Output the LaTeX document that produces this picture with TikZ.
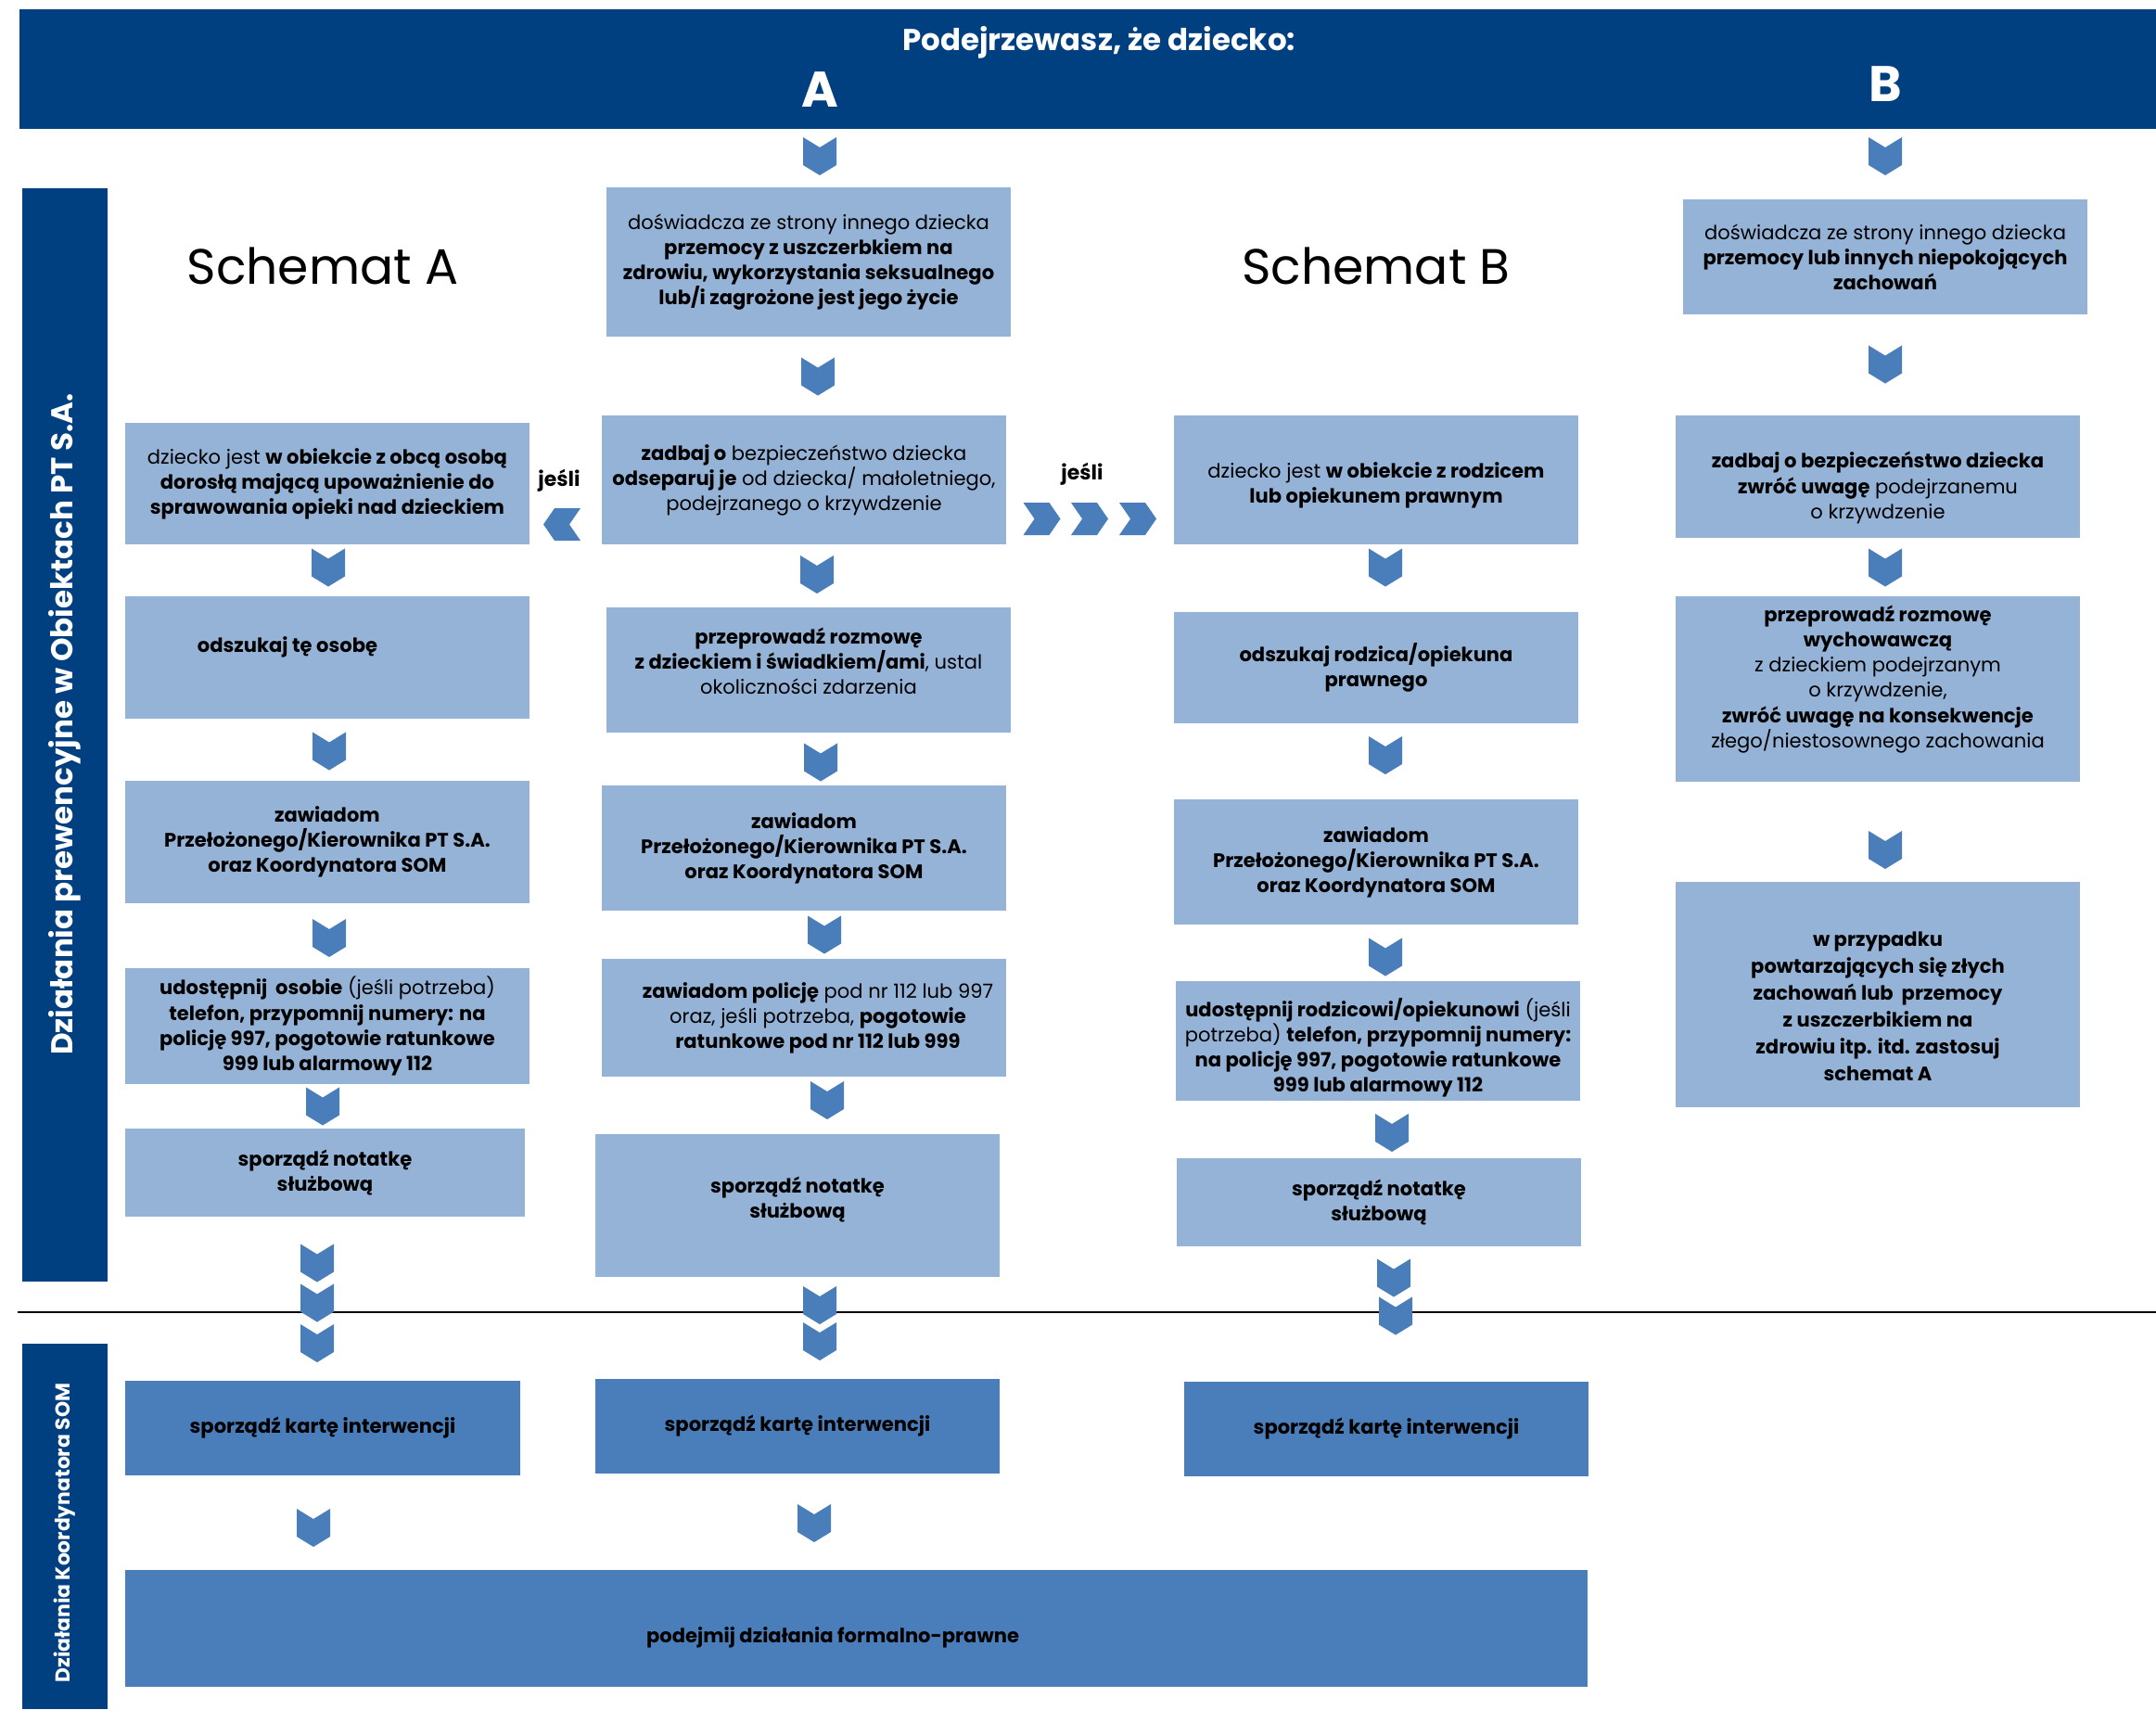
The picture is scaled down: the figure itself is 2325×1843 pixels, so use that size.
\documentclass[tikz,border=0pt]{standalone}
\usepackage{fontspec}
\setmainfont{Poppins}
\usetikzlibrary{shapes.symbols}

\definecolor{navy}{HTML}{003F80}
\definecolor{boxlight}{HTML}{95B3D7}
\definecolor{boxdark}{HTML}{4A7EBB}
\definecolor{chevblue}{HTML}{4A7EBB}

% one unit of the picture = one pixel of the original
\def\pxu{0.02cm}
\newcommand{\boxfont}{\fontsize{12pt}{15.4pt}\selectfont}

\tikzset{
  lbox/.style={fill=boxlight, align=center, inner sep=0pt, font=\boxfont},
  dbox/.style={fill=boxdark, align=center, inner sep=0pt, font=\boxfont\bfseries},
  boxtxt/.style={align=center, inner sep=0pt, font=\boxfont},
  wh/.style 2 args={minimum width=#1*\pxu, minimum height=#2*\pxu},
  sidebar/.style={fill=navy, text=white, rotate=90, inner sep=0pt, font=\bfseries},
  chev/.style={signal, fill=chevblue, inner sep=0pt},
  chevd/.style={chev, signal to=south, signal from=north, signal pointer angle=117,
                minimum width=36*\pxu, minimum height=19*\pxu},
  chevl/.style={chev, signal to=west, signal from=east, signal pointer angle=111,
                minimum width=40*\pxu, minimum height=35*\pxu},
  chevr/.style={chev, signal to=east, signal from=west, signal pointer angle=111,
                minimum width=40*\pxu, minimum height=35*\pxu},
}

\begin{document}
\begin{tikzpicture}[x=0.02cm, y=-0.02cm]
\useasboundingbox (0,0) rectangle (2325,1843);

% ---- header
\node[fill=navy, inner sep=0pt, wh={2304}{129}] (head) at (1173,74.5) {};
\node[text=white, font=\fontsize{18.5pt}{20pt}\selectfont\bfseries] (quest) at (1185,46) {Podejrzewasz, że dziecko:};
\node[text=white, font=\fontsize{30.7pt}{32pt}\selectfont\bfseries] (letA) at (884,97) {A};
\node[text=white, font=\fontsize{30.7pt}{32pt}\selectfont\bfseries] (letB) at (2033,90.5) {B};

% ---- side bars and divider
\node[sidebar, wh={1179}{92}, font=\fontsize{18.5pt}{20pt}\selectfont\bfseries] (prev) at (70,792.5) {\hspace*{0.46cm}Działania prewencyjne w Obiektach PT S.A.};
\node[sidebar, wh={394}{92}, font=\fontsize{12.4pt}{14pt}\selectfont\bfseries] (som) at (70,1646) {Działania Koordynatora SOM\hspace*{0.28cm}};
\draw[line width=1.2pt] (19,1415) -- (2325,1415);

\node[font=\fontsize{30.5pt}{32pt}\selectfont] (schA) at (348,286.5) {Schemat A};
\node[font=\fontsize{30.5pt}{32pt}\selectfont] (schB) at (1484,286.5) {Schemat B};

% ---- column A
\node[lbox, wh={436}{161}] (a1) at (872,282.5) {doświadcza ze strony innego dziecka\\ \textbf{przemocy z uszczerbkiem na}\\ \textbf{zdrowiu, wykorzystania seksualnego}\\ \textbf{lub/i zagrożone jest jego życie}};
\node[lbox, wh={436}{139}] (a2) at (867,517.5) {\textbf{zadbaj o} bezpieczeństwo dziecka\\ \textbf{odseparuj je} od dziecka/ małoletniego,\\ podejrzanego o krzywdzenie};
\node[lbox, wh={436}{135}, label={[boxtxt, yshift=9.5*\pxu]center:\textbf{przeprowadź rozmowę}\\ \textbf{z dzieckiem i świadkiem/ami}, ustal\\ okoliczności zdarzenia}] (a3) at (872,722.5) {};
\node[lbox, wh={436}{135}] (a4) at (867,914.5) {\textbf{zawiadom}\\ \textbf{Przełożonego/Kierownika PT S.A.}\\ \textbf{oraz Koordynatora SOM}};
\node[lbox, wh={436}{127}, label={[boxtxt, xshift=15*\pxu]center:\textbf{zawiadom policję} pod nr 112 lub 997\\ oraz, jeśli potrzeba, \textbf{pogotowie}\\ \textbf{ratunkowe pod nr 112 lub 999}}] (a5) at (867,1097.5) {};
\node[lbox, wh={436}{154}, label={[boxtxt, yshift=6.5*\pxu]center:\textbf{sporządź notatkę}\\ \textbf{służbową}}] (a6) at (860,1300) {};
\node[dbox, wh={436}{102}] (ka) at (860,1538) {sporządź kartę interwencji};

% ---- Schemat A
\node[lbox, wh={436}{131}] (l1) at (353,521.5) {dziecko jest \textbf{w obiekcie z obcą osobą}\\ \textbf{dorosłą mającą upoważnienie do}\\ \textbf{sprawowania opieki nad dzieckiem}};
\node[lbox, wh={436}{132}] (l2) at (353,709) {\textbf{odszukaj tę osobę}\hspace*{1.72cm}\\ \mbox{}};
\node[lbox, wh={436}{132}] (l3) at (353,908) {\textbf{zawiadom}\\ \textbf{Przełożonego/Kierownika PT S.A.}\\ \textbf{oraz Koordynatora SOM}};
\node[lbox, wh={436}{125}] (l4) at (353,1106.5) {\textbf{udostępnij\ \ osobie} (jeśli potrzeba)\\ \textbf{telefon, przypomnij numery: na}\\ \textbf{policję 997, pogotowie ratunkowe}\\ \textbf{999 lub alarmowy 112}};
\node[lbox, wh={431}{95}] (l5) at (350.5,1264.5) {\textbf{sporządź notatkę}\\ \textbf{służbową}};
\node[dbox, wh={426}{102}] (kl) at (348,1540) {sporządź kartę interwencji};

% ---- Schemat B
\node[lbox, wh={436}{139}, label={[boxtxt, yshift=-5.5*\pxu]center:dziecko jest \textbf{w obiekcie z rodzicem}\\ \textbf{lub opiekunem prawnym}}] (b1) at (1484,517.5) {};
\node[lbox, wh={436}{120}] (b2) at (1484,720) {\textbf{odszukaj rodzica/opiekuna}\\ \textbf{prawnego}};
\node[lbox, wh={436}{135}] (b3) at (1484,929.5) {\textbf{zawiadom}\\ \textbf{Przełożonego/Kierownika PT S.A.}\\ \textbf{oraz Koordynatora SOM}};
\node[lbox, wh={436}{129}, label={[boxtxt, yshift=-7.5*\pxu]center:\textbf{udostępnij rodzicowi/opiekunowi} (jeśli\\ potrzeba) \textbf{telefon, przypomnij numery:}\\ \textbf{na policję 997, pogotowie ratunkowe}\\ \textbf{999 lub alarmowy 112}}] (b4) at (1486,1122.5) {};
\node[lbox, wh={436}{95}] (b5) at (1487,1296.5) {\textbf{sporządź notatkę}\\ \textbf{służbową}};
\node[dbox, wh={436}{102}] (kb) at (1495,1541) {sporządź kartę interwencji};

% ---- column B
\node[lbox, wh={436}{124}] (r1) at (2033,277) {doświadcza ze strony innego dziecka\\ \textbf{przemocy lub innych niepokojących}\\ \textbf{zachowań}};
\node[lbox, wh={436}{132}, label={[boxtxt, yshift=-12*\pxu]center:\textbf{zadbaj o bezpieczeństwo dziecka}\\ \textbf{zwróć uwagę} podejrzanemu\\ o krzywdzenie}] (r2) at (2025,514) {};
\node[lbox, wh={436}{200}, label={[boxtxt, yshift=10.5*\pxu]center:\textbf{przeprowadź rozmowę}\\ \textbf{wychowawczą}\\ z dzieckiem podejrzanym\\ o krzywdzenie,\\ \textbf{zwróć uwagę na konsekwencje}\\ złego/niestosownego zachowania}] (r3) at (2025,743) {};
\node[lbox, wh={436}{243}, label={[boxtxt, yshift=-12.5*\pxu, font=\fontsize{12pt}{16.5pt}\selectfont\bfseries]center:w przypadku\\ powtarzających się złych\\ zachowań lub\ \ przemocy\\ z uszczerbikiem na\\ zdrowiu itp. itd. zastosuj\\ schemat A}] (r4) at (2025,1072.5) {};

% ---- formal step
\node[dbox, wh={1577}{126}, label={[boxtxt, xshift=-25.5*\pxu, yshift=-10*\pxu, font=\boxfont\bfseries]center:podejmij działania formalno-prawne}] (formal) at (923.5,1756) {};

% ---- "jeśli" branches
\node[font=\fontsize{12.5pt}{14pt}\selectfont\bfseries] (ifA) at (603,518) {jeśli};
\node[font=\fontsize{12.5pt}{14pt}\selectfont\bfseries] (ifB) at (1167,511) {jeśli};
\node[chevl] (kleft) at (606,565.5) {};
\foreach \cx [count=\i] in {1123.5,1175,1227}
  \node[chevr] (kright\i) at (\cx,559.5) {};

% ---- down chevrons
\foreach \cx/\cy [count=\i] in {884/168.5, 2033/168.5,
    882/406, 881/619.5, 885/822, 889/1008, 892/1186.5, 884/1407.5, 884/1446.5, 878/1642.5,
    354/612, 355/810, 355/1011.5, 348/1193, 342/1362, 342/1405, 342/1448.5, 338/1647.5,
    1494/612, 1494/814.5, 1494/1032, 1501/1221.5, 1503/1378, 1505/1419,
    2033/393, 2033/612, 2033/916.5}
  \node[chevd] (kd\i) at (\cx,\cy) {};
\end{tikzpicture}
\end{document}
